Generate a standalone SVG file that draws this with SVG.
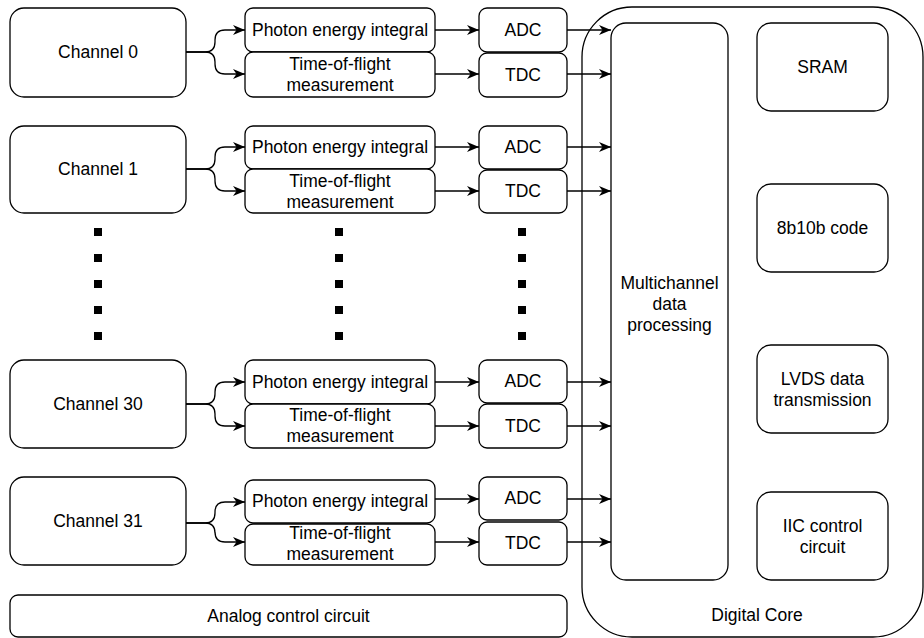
<svg xmlns="http://www.w3.org/2000/svg" width="924" height="638" viewBox="0 0 924 638">
<defs>
<style>
.box{fill:#fff;stroke:#000;stroke-width:1.3}
.core{fill:none;stroke:#000;stroke-width:1.3}
.t{font-family:"Liberation Sans",Arial,sans-serif;font-size:17.5px;fill:#000;text-anchor:middle}
.c{fill:none;stroke:#000;stroke-width:1.3;marker-end:url(#ah)}
.dot{fill:#000}
</style>
<marker id="ah" markerUnits="userSpaceOnUse" markerWidth="13" markerHeight="11" refX="12" refY="5.5" orient="auto">
<path d="M0,0.5 L12,5.5 L0,10.5 L3.5,5.5 Z" fill="#000"/>
</marker>
</defs>
<rect width="924" height="638" fill="#fff"/>

<g id="digital-core">
<rect class="core" x="582" y="7" width="341" height="630" rx="50" ry="50"/>
<text class="t" x="757" y="621">Digital Core</text>
</g>

<g id="multichannel">
<rect class="box" x="611" y="23" width="117" height="557" rx="15"/>
<text class="t" x="669.5" y="289">Multichannel</text>
<text class="t" x="669.5" y="310">data</text>
<text class="t" x="669.5" y="331">processing</text>
</g>
<g id="sram"><rect class="box" x="757" y="23" width="131" height="88" rx="14"/><text class="t" x="822.5" y="73">SRAM</text></g>
<g id="code8b10b"><rect class="box" x="757" y="184" width="131" height="88" rx="14"/><text class="t" x="822.5" y="234">8b10b code</text></g>
<g id="lvds"><rect class="box" x="757" y="345" width="131" height="88" rx="14"/><text class="t" x="822.5" y="384.5">LVDS data</text><text class="t" x="822.5" y="405.5">transmission</text></g>
<g id="iic"><rect class="box" x="757" y="492" width="131" height="88" rx="14"/><text class="t" x="822.5" y="531.5">IIC control</text><text class="t" x="822.5" y="552.5">circuit</text></g>

<g id="analog"><rect class="box" x="10" y="595" width="557" height="42" rx="8"/><text class="t" x="288.5" y="622">Analog control circuit</text></g>

<!-- Group 0 -->
<g id="ch0"><rect class="box" x="10" y="8" width="176" height="89" rx="14"/><text class="t" x="98" y="58">Channel 0</text></g>
<g id="pei0"><rect class="box" x="245" y="8" width="190" height="44" rx="8"/><text class="t" x="340" y="36">Photon energy integral</text></g>
<g id="tof0"><rect class="box" x="245" y="52" width="190" height="45" rx="8"/><text class="t" x="340" y="70">Time-of-flight</text><text class="t" x="340" y="91">measurement</text></g>
<g id="adc0"><rect class="box" x="479" y="8" width="88" height="44" rx="8"/><text class="t" x="523" y="36">ADC</text></g>
<g id="tdc0"><rect class="box" x="479" y="53" width="88" height="44" rx="8"/><text class="t" x="523" y="81">TDC</text></g>

<!-- Group 1 -->
<g id="ch1"><rect class="box" x="10" y="126" width="176" height="87" rx="14"/><text class="t" x="98" y="175">Channel 1</text></g>
<g id="pei1"><rect class="box" x="245" y="126" width="190" height="43" rx="8"/><text class="t" x="340" y="153">Photon energy integral</text></g>
<g id="tof1"><rect class="box" x="245" y="169" width="190" height="44" rx="8"/><text class="t" x="340" y="187">Time-of-flight</text><text class="t" x="340" y="208">measurement</text></g>
<g id="adc1"><rect class="box" x="479" y="126" width="88" height="43" rx="8"/><text class="t" x="523" y="153">ADC</text></g>
<g id="tdc1"><rect class="box" x="479" y="170" width="88" height="43" rx="8"/><text class="t" x="523" y="197">TDC</text></g>

<!-- Group 30 -->
<g id="ch30"><rect class="box" x="10" y="360" width="176" height="88" rx="14"/><text class="t" x="98" y="410">Channel 30</text></g>
<g id="pei30"><rect class="box" x="245" y="360" width="190" height="44" rx="8"/><text class="t" x="340" y="388">Photon energy integral</text></g>
<g id="tof30"><rect class="box" x="245" y="404" width="190" height="44" rx="8"/><text class="t" x="340" y="421">Time-of-flight</text><text class="t" x="340" y="442">measurement</text></g>
<g id="adc30"><rect class="box" x="479" y="360" width="88" height="43" rx="8"/><text class="t" x="523" y="387">ADC</text></g>
<g id="tdc30"><rect class="box" x="479" y="404" width="88" height="44" rx="8"/><text class="t" x="523" y="432">TDC</text></g>

<!-- Group 31 -->
<g id="ch31"><rect class="box" x="10" y="477" width="176" height="88" rx="14"/><text class="t" x="98" y="527">Channel 31</text></g>
<g id="pei31"><rect class="box" x="245" y="480" width="190" height="43" rx="8"/><text class="t" x="340" y="507">Photon energy integral</text></g>
<g id="tof31"><rect class="box" x="245" y="524" width="190" height="41" rx="8"/><text class="t" x="340" y="539">Time-of-flight</text><text class="t" x="340" y="560">measurement</text></g>
<g id="adc31"><rect class="box" x="479" y="477" width="88" height="43" rx="8"/><text class="t" x="523" y="504">ADC</text></g>
<g id="tdc31"><rect class="box" x="479" y="522" width="88" height="43" rx="8"/><text class="t" x="523" y="549">TDC</text></g>

<g id="ellipsis">
<rect class="dot" x="94" y="228" width="8" height="8"/><rect class="dot" x="94" y="254" width="8" height="8"/><rect class="dot" x="94" y="280" width="8" height="8"/><rect class="dot" x="94" y="306" width="8" height="8"/><rect class="dot" x="94" y="332" width="8" height="8"/>
<rect class="dot" x="335" y="228" width="8" height="8"/><rect class="dot" x="335" y="254" width="8" height="8"/><rect class="dot" x="335" y="280" width="8" height="8"/><rect class="dot" x="335" y="306" width="8" height="8"/><rect class="dot" x="335" y="332" width="8" height="8"/>
<rect class="dot" x="518" y="228" width="8" height="8"/><rect class="dot" x="518" y="254" width="8" height="8"/><rect class="dot" x="518" y="280" width="8" height="8"/><rect class="dot" x="518" y="306" width="8" height="8"/><rect class="dot" x="518" y="332" width="8" height="8"/>
</g>

<g id="connectors">
<!-- group 0 -->
<path class="c" d="M186,52 H205 Q215,52 215,42 V40 Q215,30 225,30 H245"/>
<path class="c" d="M186,52 H205 Q215,52 215,62 V64 Q215,74 225,74 H245"/>
<path class="c" d="M435,30 H479"/>
<path class="c" d="M435,74 H479"/>
<path class="c" d="M567,30 H611"/>
<path class="c" d="M567,74 H611"/>
<!-- group 1 -->
<path class="c" d="M186,169 H205 Q215,169 215,159 V157 Q215,147 225,147 H245"/>
<path class="c" d="M186,169 H205 Q215,169 215,179 V181 Q215,191 225,191 H245"/>
<path class="c" d="M435,147 H479"/>
<path class="c" d="M435,191 H479"/>
<path class="c" d="M567,147 H611"/>
<path class="c" d="M567,191 H611"/>
<!-- group 30 -->
<path class="c" d="M186,404 H205 Q215,404 215,394 V392 Q215,382 225,382 H245"/>
<path class="c" d="M186,404 H205 Q215,404 215,414 V416 Q215,426 225,426 H245"/>
<path class="c" d="M435,382 H479"/>
<path class="c" d="M435,426 H479"/>
<path class="c" d="M567,382 H611"/>
<path class="c" d="M567,426 H611"/>
<!-- group 31 -->
<path class="c" d="M186,523 H205 Q215,523 215,513 V512 Q215,502 225,502 H245"/>
<path class="c" d="M186,523 H205 Q215,523 215,533 V532 Q215,542 225,542 H245"/>
<path class="c" d="M435,499 H479"/>
<path class="c" d="M435,542 H479"/>
<path class="c" d="M567,499 H611"/>
<path class="c" d="M567,542 H611"/>
</g>
</svg>
